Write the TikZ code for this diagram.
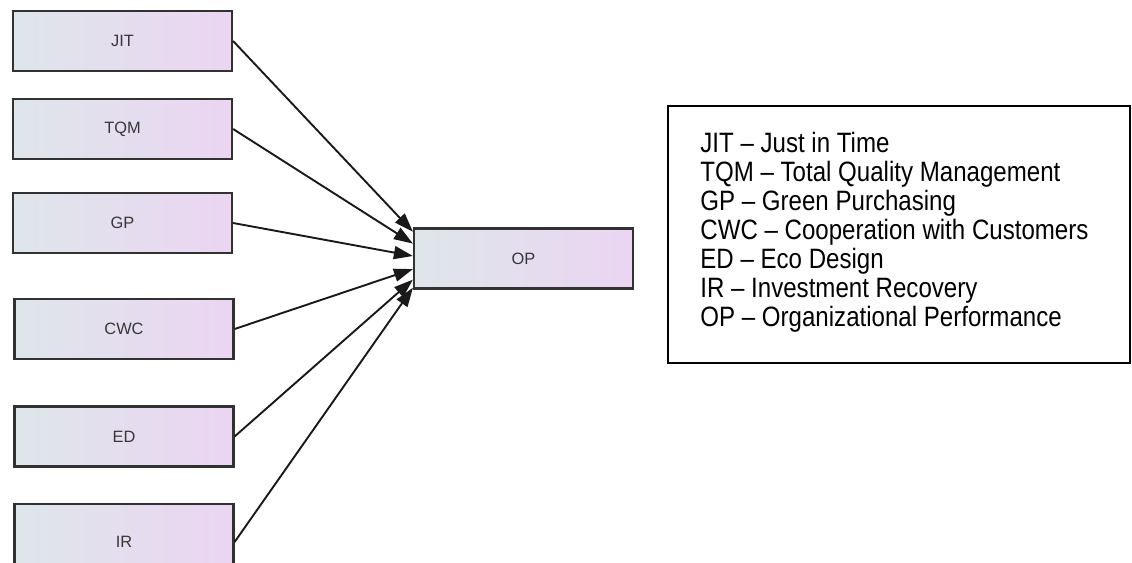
\documentclass[tikz,border=0pt]{standalone}
\usepackage{fontspec}
\setmainfont{Liberation Sans}
\newfontfamily\legendfont[FakeStretch=0.86]{Liberation Sans}
\usetikzlibrary{arrows.meta,calc}
\definecolor{boxleft}{RGB}{222,230,234}
\definecolor{boxright}{RGB}{235,213,242}
\definecolor{boxline}{RGB}{50,50,50}
\definecolor{labelgray}{RGB}{55,55,55}
\begin{document}
\begin{tikzpicture}[x=0.5pt,y=-0.5pt,
  varbox/.style={draw=boxline, line width=1.1pt, left color=boxleft, right color=boxright,
    minimum width=109.5pt, minimum height=30pt, inner sep=0pt,
    font=\fontsize{8.2}{9}\selectfont, text=labelgray},
  link/.style={draw=black!90, line width=0.95pt, -{Triangle[length=9.5pt,width=6.5pt]}},
  legline/.style={anchor=base west, inner sep=0pt, font=\legendfont\fontsize{14}{14.45}\selectfont}]
\useasboundingbox (0,0) rectangle (1132,563);
\clip (0,0) rectangle (1132,563);

% construct boxes
\node[varbox] (JIT) at (122.5,41) {JIT};
\node[varbox] (TQM) at (122.5,129) {TQM};
\node[varbox] (GP) at (122.5,223) {GP};
\node[varbox] (CWC) at (124,329) {CWC};
\node[varbox] (ED) at (124,436.5) {ED};
\node[varbox, minimum height=38pt] (IR) at (124,542) {IR};
\node[varbox] (OP) at (523.5,258.5) {OP};

% paths into OP
\draw[link] (JIT.east) -- ($(OP.north west)!0.07!(OP.south west)$);
\draw[link] (TQM.east) -- ($(OP.north west)!0.26!(OP.south west)$);
\draw[link] (GP.east)  -- ($(OP.north west)!0.46!(OP.south west)$);
\draw[link] (CWC.east) -- ($(OP.north west)!0.67!(OP.south west)$);
\draw[link] (ED.east)  -- ($(OP.north west)!0.84!(OP.south west)$);
\draw[link] (IR.east)  -- ($(OP.north west)!0.97!(OP.south west)$);

% abbreviation key
\node[draw=black, line width=1pt, anchor=north west, minimum width=231pt,
  minimum height=128.5pt, inner sep=0pt] (legend) at (667,105) {};
\node[legline] (leg1) at (700,152.7) {JIT – Just in Time};
\node[legline] (leg2) at (700,181.6) {TQM – Total Quality Management};
\node[legline] (leg3) at (700,210.5) {GP – Green Purchasing};
\node[legline] (leg4) at (700,239.4) {CWC – Cooperation with Customers};
\node[legline] (leg5) at (700,268.3) {ED – Eco Design};
\node[legline] (leg6) at (700,297.2) {IR – Investment Recovery};
\node[legline] (leg7) at (700,326.1) {OP – Organizational Performance};
\end{tikzpicture}
\end{document}
